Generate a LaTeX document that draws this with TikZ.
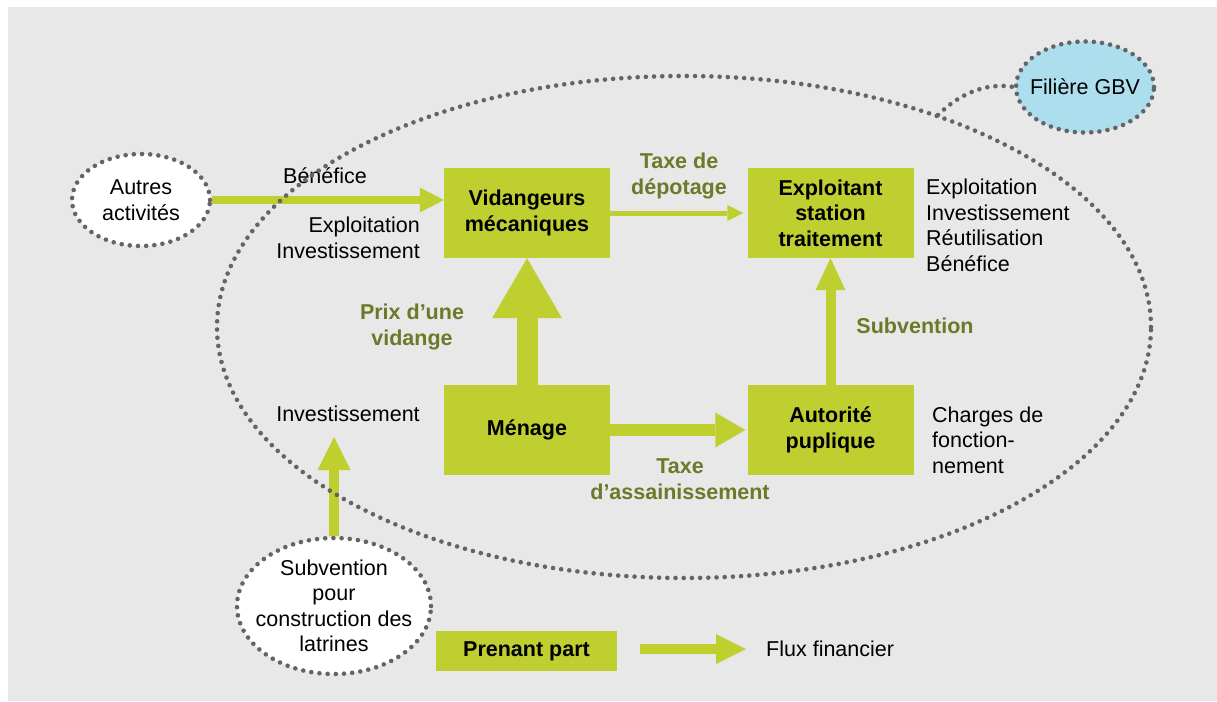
\documentclass[tikz,border=0pt]{standalone}
\usepackage{fontspec}
\setmainfont{Liberation Sans}
\usepackage{tikz}
\usetikzlibrary{arrows.meta,shapes.geometric,positioning}
\definecolor{fondgris}{RGB}{232,232,232}
\definecolor{vertlime}{RGB}{191,207,48}
\definecolor{vertolive}{RGB}{107,122,40}
\definecolor{pointgris}{RGB}{100,100,100}
\definecolor{bleuciel}{RGB}{173,222,238}
\newcommand{\taille}{\fontsize{21.5}{25.5}\selectfont}
\tikzset{
	pointille/.style={draw=pointgris, line width=4.6pt, line cap=round, dash pattern=on 0pt off 8.2pt},
	acteur/.style={fill=vertlime, font=\taille\bfseries, align=center, minimum width=166pt, minimum height=90pt, inner sep=0pt},
	externe/.style={ellipse, pointille, fill=white, font=\taille, align=center, inner sep=0pt},
	montant/.style={text=vertolive, font=\taille\bfseries, align=center, inner sep=0pt},
	poste/.style={font=\taille, align=left, inner sep=0pt},
	flux/.style n args={3}{draw=vertlime, line width=#1, -{Triangle[length=#2, width=#3, line width=0pt]}},
}

\begin{document}
\begin{tikzpicture}[x=1pt,y=-1pt]
	\useasboundingbox (0,0) rectangle (1217,701);
	\fill[fondgris] (8,7) rectangle (1217,701);
	% acteurs
	\node[acteur] (vid) at (527,213) {Vidangeurs\\mécaniques};
	\node[acteur] (expl) at (830.5,213) {Exploitant\\station\\traitement};
	\node[acteur] (men) at (527,430) {Ménage};
	\node[acteur] (auto) at (830.5,430) {Autorité\\puplique};
	\node[acteur, minimum width=181pt, minimum height=40pt] (prenant) at (526.5,651) {Prenant part};
	% hors filiere
	\node[externe, minimum width=138pt, minimum height=92pt] (autres) at (141,200) {};
	\node[poste, align=center] (autrestxt) at (autres.center) {Autres\\activités};
	\node[externe, minimum width=194pt, minimum height=136pt] (subv) at (334,606) {};
	\node[poste, align=center] (subvtxt) at (subv.center) {Subvention\\pour\\construction des\\latrines};
	\node[externe, fill=bleuciel, minimum width=138pt, minimum height=91pt] (gbv) at (1085,87) {};
	\node[poste] (gbvtxt) at (gbv.center) {Filière GBV};
	% textes
	\node[poste] (benef) at (325,176) {Bénéfice};
	\node[poste, align=right, anchor=east] (expinv) at (420,238) {Exploitation\\Investissement};
	\node[montant] (taxdep) at (679,176) {Taxe de\\dépotage};
	\node[poste, anchor=west] (stalist) at (926,225.5) {Exploitation\\Investissement\\Réutilisation\\Bénéfice};
	\node[montant] (prix) at (412,327) {Prix d’une\\vidange};
	\node[montant] (subvlbl) at (915,326) {Subvention};
	\node[poste] (inv) at (348,414) {Investissement};
	\node[poste, anchor=west] (charges) at (932,440) {Charges de\\fonction-\\nement};
	\node[montant] (taxass) at (680,479) {Taxe\\d’assainissement};
	\node[poste, anchor=west] (fluxlbl) at (766,649) {Flux financier};
	\coordinate (invpointe) at (334,437);
	\coordinate (leg1) at (640,649);
	\coordinate (leg2) at (746,649);
	\coordinate (queue) at (938,115);
	% flux financiers
	\draw[flux={8pt}{24pt}{25pt}] (autres.east) -- (autres.east -| vid.west);
	\draw[flux={5pt}{16pt}{16pt}, shorten >=4pt] (vid) -- (expl);
	\draw[flux={21pt}{60pt}{70pt}] (men) -- (vid);
	\draw[flux={12pt}{30pt}{35pt}, shorten >=2pt] (men) -- (auto);
	\draw[flux={10pt}{32pt}{30pt}] (auto) -- (expl);
	\draw[flux={10pt}{33pt}{33pt}] (subv) -- (invpointe);
	\draw[flux={10pt}{30pt}{30pt}] (leg1) -- (leg2);
	% filiere
	\draw[pointille] (684,327) ellipse (467pt and 251pt);
	\draw[pointille] (queue) .. controls (958,95) and (985,82) .. (gbv.west);
\end{tikzpicture}
\end{document}
